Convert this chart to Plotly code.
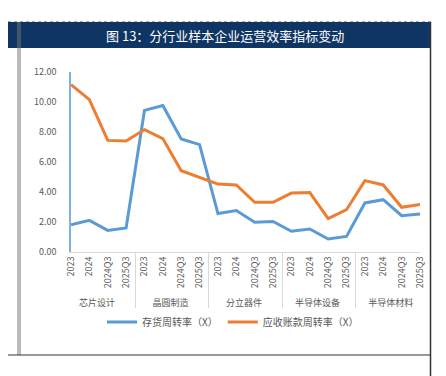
import plotly.graph_objects as go

groups = ["芯片设计", "晶圆制造", "分立器件", "半导体设备", "半导体材料"]
periods = ["2023", "2024", "2024Q3", "2025Q3"]
inventory_turnover = [1.82, 2.11, 1.44, 1.60,
                      9.44, 9.76, 7.53, 7.16,
                      2.56, 2.76, 1.98, 2.04,
                      1.38, 1.53, 0.87, 1.04,
                      3.27, 3.49, 2.42, 2.53]
receivable_turnover = [11.16, 10.16, 7.44, 7.40,
                       8.16, 7.56, 5.42, 5.00,
                       4.53, 4.47, 3.31, 3.31,
                       3.93, 3.96, 2.22, 2.82,
                       4.76, 4.47, 2.98, 3.16]
title_text = "图 13：分行业样本企业运营效率指标变动"
series_names = ["存货周转率（X）", "应收账款周转率（X）"]

xg = [g for g in groups for _ in periods]
xp = [p for _ in groups for p in periods]

W, H = 446, 376
L, R, T, B = 63, 412, 64, 244

def px(x):
    return (x - L) / (R - L)

def py(y):
    return (B - y) / (B - T)

font = "Noto Sans CJK SC, Liberation Sans, sans-serif"

fig = go.Figure()
fig.add_trace(go.Scatter(x=[xg, xp], y=inventory_turnover, mode="lines",
                         name=series_names[0],
                         line=dict(color="#5B9BD5", width=3)))
fig.add_trace(go.Scatter(x=[xg, xp], y=receivable_turnover, mode="lines",
                         name=series_names[1],
                         line=dict(color="#ED7D31", width=3)))

P = dict(xref="paper", yref="paper")
shapes = [
    # title bar
    dict(type="rect", x0=px(0), x1=px(423), y0=py(14), y1=py(40),
         fillcolor="#0F3565", line=dict(width=0), layer="below", **P),
    # top dotted border
    dict(type="line", x0=px(0), x1=px(423), y0=py(13.5), y1=py(13.5),
         line=dict(color="#aaaaaa", width=1, dash="dot"), **P),
    # left double line
    dict(type="line", x0=px(10), x1=px(10), y0=py(14), y1=py(347),
         line=dict(color="#777777", width=1), **P),
    dict(type="line", x0=px(12), x1=px(12), y0=py(14), y1=py(347),
         line=dict(color="#777777", width=1), **P),
    # right border
    dict(type="line", x0=px(422.5), x1=px(422.5), y0=py(14), y1=py(371),
         line=dict(color="#333333", width=1.5), **P),
    # bottom lines
    dict(type="line", x0=px(0), x1=px(423), y0=py(347), y1=py(347),
         line=dict(color="#333333", width=1), **P),
    dict(type="line", x0=px(0), x1=px(423), y0=py(370.5), y1=py(370.5),
         line=dict(color="#333333", width=1.5), **P),
]

fig.update_layout(
    width=W, height=H,
    margin=dict(l=L, r=W - R, t=T, b=H - B, autoexpand=False),
    paper_bgcolor="white", plot_bgcolor="white",
    font=dict(family=font, color="#595959", size=9),
    showlegend=True,
    legend=dict(orientation="h", x=px(225), xanchor="center",
                yref="container", y=(H - 314) / H, yanchor="middle",
                font=dict(size=10, color="#595959"), itemwidth=30,
                tracegroupgap=0),
    shapes=shapes,
    annotations=[dict(text=title_text, x=px(217), y=py(27), xref="paper", yref="paper",
                      showarrow=False, font=dict(color="white", size=13, family=font),
                      xanchor="center", yanchor="middle")],
)
fig.update_yaxes(range=[0, 12], dtick=2, tickformat=".2f", showgrid=False,
                 zeroline=False, showline=True, linecolor="#7EB0E0", linewidth=1.5,
                 ticks="", ticklabelstandoff=11, automargin=False,
                 tickfont=dict(size=9, color="#595959"))
fig.update_xaxes(type="multicategory", showgrid=False, showline=True,
                 linecolor="#D9D9D9", linewidth=1, tickangle=-90, automargin=False,
                 showdividers=True, dividercolor="#D9D9D9", dividerwidth=1,
                 tickfont=dict(size=9, color="#595959"))

fig.write_html("out.html")
